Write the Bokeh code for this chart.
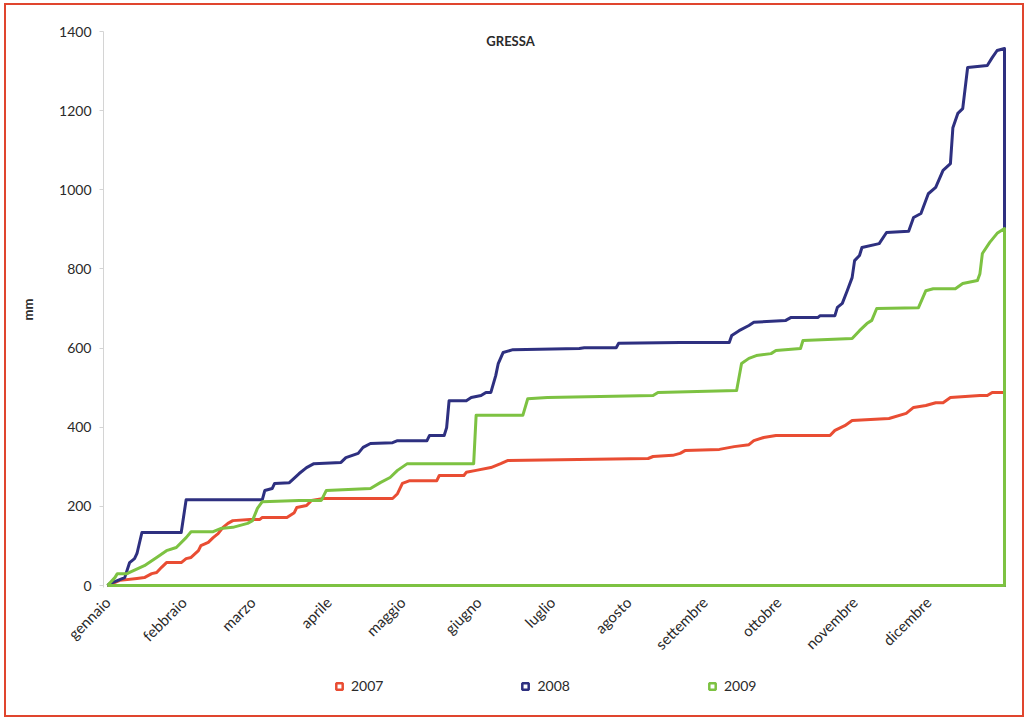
import math
from bokeh.plotting import figure
from bokeh.layouts import column
from bokeh.models import Range1d, FixedTicker, Legend, LegendItem, Label
from bokeh.embed import file_html
from bokeh.resources import INLINE

# ---------------- data ----------------
months = ["gennaio", "febbraio", "marzo", "aprile", "maggio", "giugno",
          "luglio", "agosto", "settembre", "ottobre", "novembre", "dicembre"]
month_start_days = [0, 31, 59, 90, 120, 151, 181, 212, 243, 273, 304, 334]

y_ticks = [0, 200, 400, 600, 800, 1000, 1200, 1400]

years = ["2007", "2008", "2009"]

days_2007 = [0, 5, 12, 15, 18, 20, 22, 24, 30, 32, 34, 37, 38, 41, 43, 45, 47, 49, 51, 58,
             62, 63, 73, 76, 77, 81, 83, 88, 116, 118, 120, 123, 134, 135, 145, 146, 150, 156,
             160, 163, 220, 222, 230, 233, 235, 249, 255, 261, 263, 267, 272, 294, 296, 300,
             303, 318, 325, 328, 333, 337, 340, 343, 355, 358, 360, 365]
mm_2007 = [0, 13, 18, 20, 30, 33, 46, 58, 58, 68, 71, 88, 101, 109, 121, 131, 147, 157, 164, 167,
           167, 172, 172, 184, 197, 202, 215, 220, 220, 232, 258, 265, 265, 278, 278, 286, 291, 298,
           308, 316, 321, 326, 329, 334, 341, 344, 351, 356, 366, 374, 379, 379, 392, 404,
           417, 422, 435, 450, 455, 462, 462, 475, 480, 480, 488, 488]

days_2008 = [0, 1, 7, 9, 11, 12, 14, 30, 32, 63, 64, 67, 68, 74, 78, 81, 84, 95, 97, 102,
             104, 107, 116, 118, 130, 131, 137, 138, 139, 146, 148, 152, 154, 156, 158, 159, 161,
             165, 192, 194, 207, 208, 233, 253, 254, 257, 261, 263, 276, 278, 289, 290, 296,
             297, 299, 301, 303, 304, 306, 307, 314, 317, 326, 328, 331, 334, 337, 340, 343,
             344, 346, 348, 350, 358, 360, 362, 365]
mm_2008 = [0, 5, 20, 58, 68, 81, 134, 134, 217, 217, 240, 245, 258, 260, 283, 298, 308, 311, 323, 334,
           349, 359, 361, 366, 366, 379, 379, 399, 467, 467, 475, 480, 488, 488, 531, 561, 589,
           596, 599, 601, 601, 612, 614, 614, 632, 644, 657, 665, 670, 677, 677, 682, 682,
           703, 713, 745, 778, 821, 834, 854, 864, 892, 895, 930, 940, 990, 1006, 1049, 1066,
           1157, 1193, 1205, 1309, 1314, 1334, 1352, 1357]

days_2009 = [0, 3, 4, 8, 9, 15, 20, 24, 28, 32, 34, 43, 46, 51, 57, 59, 61, 63, 78, 87,
             89, 107, 111, 115, 118, 122, 149, 150, 169, 171, 179, 222, 224, 256, 258, 261, 264,
             270, 272, 282, 283, 303, 306, 309, 311, 313, 330, 333, 336, 345, 348, 354, 355,
             356, 359, 362, 365]
mm_2009 = [0, 20, 30, 30, 33, 50, 71, 88, 96, 121, 136, 136, 144, 147, 157, 164, 195, 212, 215, 215,
           240, 245, 260, 273, 291, 308, 308, 430, 430, 472, 475, 480, 488, 493, 561, 574, 581,
           586, 594, 599, 619, 624, 644, 662, 670, 700, 702, 745, 750, 750, 763, 771, 788,
           839, 867, 890, 902]

series_days = [days_2007, days_2008, days_2009]
series_mm = [mm_2007, mm_2008, mm_2009]
colors = ["#E94D33", "#2E3080", "#7DC242"]

FONT = "Lato"
TXT = "#2a2a2a"

# ---------------- main figure ----------------
p = figure(width=1016, height=660, output_backend="svg", toolbar_location=None,
           x_range=Range1d(-1.63, 366.63), y_range=Range1d(-5, 1400),
           min_border_left=97, min_border_right=14, min_border_top=26, min_border_bottom=78,
           background_fill_color="white", border_fill_color="white")
p.outline_line_color = None
p.xgrid.grid_line_color = None
p.ygrid.grid_line_color = None

# series drawn as closed outlines (cumulative curve, drop to zero, back along the baseline)
for d, v, c in zip(series_days, series_mm, colors):
    xs = list(d) + [d[-1], d[0]]
    ys = list(v) + [0, 0]
    p.line(xs, ys, line_color=c, line_width=3, line_join="round")

# x axis
p.xaxis.ticker = FixedTicker(ticks=month_start_days)
p.xaxis.major_label_overrides = {d: m for d, m in zip(month_start_days, months)}
p.xaxis.major_label_orientation = math.pi / 4
p.xaxis.axis_line_color = None
p.xaxis.major_tick_line_color = None
p.xaxis.minor_tick_line_color = None
p.xaxis.major_label_text_font = FONT
p.xaxis.major_label_text_font_size = "15px"
p.xaxis.major_label_text_color = TXT
p.xaxis.major_label_standoff = 6

# y axis
p.yaxis.ticker = FixedTicker(ticks=y_ticks)
p.yaxis.axis_line_color = "#d4d4d4"
p.yaxis.major_tick_line_color = "#d4d4d4"
p.yaxis.major_tick_in = 0
p.yaxis.major_tick_out = 4
p.yaxis.minor_tick_line_color = None
p.yaxis.major_label_text_font = FONT
p.yaxis.major_label_text_font_size = "14px"
p.yaxis.major_label_text_color = TXT
p.yaxis.major_label_standoff = 8
p.yaxis.axis_label = "mm"
p.yaxis.axis_label_text_font = FONT
p.yaxis.axis_label_text_font_size = "13px"
p.yaxis.axis_label_text_font_style = "bold"
p.yaxis.axis_label_text_color = TXT
p.yaxis.axis_label_standoff = 20

# title inside the plot area
title = Label(x=164, y=1377, text="GRESSA", text_font=FONT, text_font_size="13px",
              text_font_style="bold", text_color=TXT, text_align="center",
              text_baseline="middle")
p.add_layout(title)

# ---------------- legend strip ----------------
q = figure(width=1016, height=50, output_backend="svg", toolbar_location=None,
           x_range=Range1d(0, 1), y_range=Range1d(0, 1),
           min_border=0, background_fill_color="white", border_fill_color="white")
q.axis.visible = False
q.grid.visible = False
q.outline_line_color = None
nan = float("nan")
items = []
for yr, c in zip(years, colors):
    r = q.scatter(x=[nan], y=[nan], marker="square", size=14, fill_color="white",
                  line_color=c, line_width=2.5)
    items.append(LegendItem(label=yr, renderers=[r]))
legend = Legend(items=items, orientation="horizontal", location=(228, 21),
                spacing=134, glyph_width=16, glyph_height=16, label_standoff=4,
                label_text_font=FONT, label_text_font_size="14px", label_text_color=TXT,
                border_line_color=None, background_fill_alpha=0, margin=0, padding=4)
q.add_layout(legend)

layout = column(p, q, spacing=0,
                styles={"border": "2px solid #E0452E", "margin-left": "4px", "margin-top": "3px"})

open("out.html", "w").write(file_html(layout, INLINE))
